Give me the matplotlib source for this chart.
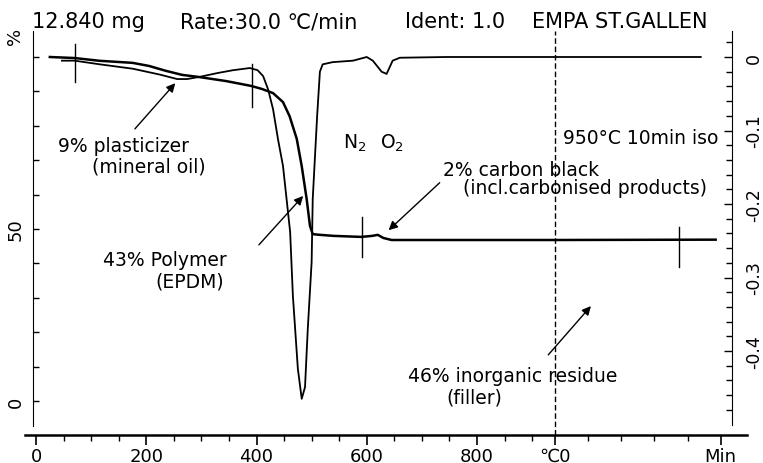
import numpy as np
import matplotlib.pyplot as plt

plt.rcParams['font.family'] = ['DejaVu Sans']

# TG curve during heating: temperature (C) and mass (%)
tg_temp = [25, 70, 115, 175, 205, 235, 265, 295, 345, 390, 410, 430, 448, 460,
           473, 482, 491, 497, 502, 515, 540, 590, 610, 620, 630, 645, 750, 900]
tg_mass = [100.0, 99.7, 98.9, 98.3, 97.4, 96.0, 94.8, 94.2, 93.0, 91.6, 90.7, 89.5,
           86.9, 82.8, 76.2, 68.3, 58.7, 50.9, 48.5, 48.3, 48.0, 47.7, 48.0, 48.3,
           47.4, 46.8, 46.8, 46.8]
# TG during the 950 C isotherm: time (min) and mass (%)
tg_iso_time = [0, 9.7]
tg_iso_mass = [46.8, 46.9]

# DTG curve during heating (right axis units)
dtg_temp = [47, 70, 116, 176, 225, 256, 274, 297, 328, 357, 388, 402, 412, 421,
            430, 439, 448, 461, 466, 475, 482, 488, 493, 500, 502, 510, 515, 520,
            538, 575, 600, 611, 627, 636, 647, 660, 745, 900]
dtg_rate = [-0.005, -0.005, -0.010, -0.016, -0.024, -0.030, -0.030, -0.027, -0.022,
            -0.018, -0.015, -0.018, -0.026, -0.044, -0.071, -0.112, -0.148, -0.238,
            -0.325, -0.424, -0.465, -0.449, -0.370, -0.279, -0.193, -0.080, -0.020,
            -0.010, -0.007, -0.005, 0.000, -0.005, -0.020, -0.023, -0.005, -0.001,
            0.0, 0.0]
dtg_iso_time = [0, 8.8]
dtg_iso_rate = [0.0, 0.0]

# evaluation limit marks: position, lower and upper end (%)
mark_temp = [70, 392, 591]
mark_lo = [92.7, 85.5, 41.9]
mark_hi = [103.8, 98.0, 53.5]
mark_iso_time = 7.5
mark_iso_lo, mark_iso_hi = 39.0, 50.6

x_major = [0, 200, 400, 600, 800]
left_ticks = [0, 50]
right_ticks = [0, -0.1, -0.2, -0.3, -0.4]

X_ISO = 942    # axis position where the isotherm starts
MIN_W = 30     # axis units per minute on the isotherm
SCALE = 213.7  # % per DTG unit (0 on the right axis sits at 100 %)


def iso_x(t):
    return X_ISO + MIN_W * np.asarray(t, dtype=float)


def main():
    fig = plt.figure(figsize=(7.63, 4.64), dpi=100)
    ax = fig.add_axes([0.0328, 0.0595, 0.9463, 0.8711])
    ax2 = ax.twinx()

    ylo, yhi = -10, 107.5
    ax.set_xlim(-20, 1290)
    ax.set_ylim(ylo, yhi)
    ax2.set_ylim((ylo - 100) / SCALE, (yhi - 100) / SCALE)

    # curves
    x_tg = np.concatenate([tg_temp, iso_x(tg_iso_time)])
    y_tg = np.concatenate([tg_mass, tg_iso_mass])
    ax.plot(x_tg, y_tg, color='black', lw=1.8)
    x_dtg = np.concatenate([dtg_temp, iso_x(dtg_iso_time)])
    y_dtg = np.concatenate([dtg_rate, dtg_iso_rate])
    ax2.plot(x_dtg, y_dtg, color='black', lw=1.3)

    for xm, lo, hi in zip(mark_temp, mark_lo, mark_hi):
        ax.plot([xm, xm], [lo, hi], color='black', lw=1)
    xm = iso_x(mark_iso_time)
    ax.plot([xm, xm], [mark_iso_lo, mark_iso_hi], color='black', lw=1)

    ax.axvline(X_ISO, color='black', lw=1, ls=(0, (4, 2)))

    # spines
    ax.spines['top'].set_visible(False)
    ax.spines['right'].set_visible(False)
    ax.spines['left'].set_position(('data', -5))
    ax.spines['left'].set_bounds(-7.3, yhi)
    ax.spines['bottom'].set_linewidth(1.8)
    for s in ['left', 'top', 'bottom']:
        ax2.spines[s].set_visible(False)
    ax2.spines['right'].set_position(('data', 1263))
    ax2.spines['right'].set_bounds(-0.5, 0.035)

    # x ticks: temperature, then minutes on the isotherm
    ax.set_xticks(x_major + [X_ISO, iso_x(10)])
    ax.set_xticklabels([str(v) for v in x_major] + ['\u2103' + '0', 'Min'], fontsize=13)
    minor = [v for v in range(50, 901, 50) if v not in x_major]
    minor += list(iso_x([2, 4, 6, 8]))
    ax.set_xticks(minor, minor=True)
    ax.tick_params(axis='x', which='major', direction='out', length=7, width=1.2, pad=1)
    ax.tick_params(axis='x', which='minor', direction='out', length=4, width=1)

    ax.set_yticks(left_ticks)
    ax.set_yticklabels([str(v) for v in left_ticks], rotation=90, va='center', fontsize=13)
    ax.set_yticks([10, 20, 30, 40, 60, 70, 80, 90, 100], minor=True)
    ax.tick_params(axis='y', which='both', direction='in', length=4, width=1, pad=6)

    ax2.set_yticks(right_ticks)
    ax2.set_yticklabels(['0', '-0.1', '-0.2', '-0.3', '-0.4'], rotation=90,
                        va='center', fontsize=12.5)
    ax2.set_yticks(np.arange(-0.48, 0.03, 0.02), minor=True)
    ax2.tick_params(axis='y', which='major', direction='in', length=6, width=1, pad=9)
    ax2.tick_params(axis='y', which='minor', direction='in', length=4, width=1)

    # header
    fs = 15
    fig.text(32 / 763, 1 - 22 / 464, '12.840 mg', fontsize=fs, va='center')
    fig.text(180 / 763, 1 - 22 / 464, 'Rate:30.0 \u2103/min', fontsize=fs, va='center')
    fig.text(405 / 763, 1 - 22 / 464, 'Ident: 1.0', fontsize=fs, va='center')
    fig.text(532 / 763, 1 - 22 / 464, 'EMPA ST.GALLEN', fontsize=fs, va='center')
    fig.text(15 / 763, 1 - 36 / 464, '%', fontsize=13, rotation=90, ha='center', va='center')

    # annotations
    ts = 13.5
    ax.text(40, 74.4, '9% plasticizer', fontsize=ts, va='center')
    ax.text(101, 68.3, '(mineral oil)', fontsize=ts, va='center')
    ax.text(557, 75.3, r'N$_2$', fontsize=ts, va='center')
    ax.text(624, 75.3, r'O$_2$', fontsize=ts, va='center')
    ax.text(956, 76.7, '950°C 10min iso', fontsize=ts, va='center')
    ax.text(738, 67.2, '2% carbon black', fontsize=ts, va='center')
    ax.text(774, 62.2, '(incl.carbonised products)', fontsize=ts, va='center')
    ax.text(121, 41.0, '43% Polymer', fontsize=ts, va='center')
    ax.text(216, 34.9, '(EPDM)', fontsize=ts, va='center')
    ax.text(674, 7.3, '46% inorganic residue', fontsize=ts, va='center')
    ax.text(745, 1.2, '(filler)', fontsize=ts, va='center')

    arrow = dict(arrowstyle='-|>', color='black', lw=1, mutation_scale=13)
    ax.annotate('', xy=(256, 93.0), xytext=(176, 78.5), arrowprops=arrow)
    ax.annotate('', xy=(488, 60.2), xytext=(401, 44.8), arrowprops=arrow)
    ax.annotate('', xy=(636, 49.1), xytext=(736, 64.0), arrowprops=arrow)
    ax.annotate('', xy=(1010, 28.2), xytext=(926, 12.8), arrowprops=arrow)

    fig.savefig('out.png', dpi=100)


if __name__ == "__main__":
    main()
